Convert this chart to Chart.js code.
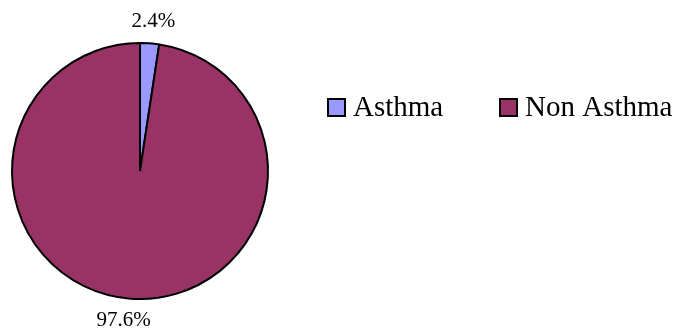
<!DOCTYPE html>
<html>
<head>
<meta charset="utf-8">
<script src="https://cdn.jsdelivr.net/npm/chart.js@4/dist/chart.umd.min.js"></script>
<style>
  html, body { margin: 0; padding: 0; background: #fff; }
  #wrap { width: 677px; height: 333px; }
</style>
</head>
<body>
<div id="wrap"><canvas id="mycanvas" width="677" height="333"></canvas></div>
<script>
var categories = ["Asthma", "Non Asthma"];
var values = [2.4, 97.6];
var labels = ["2.4%", "97.6%"];
var colors = ["#9999FF", "#993366"];

// percentage labels outside the slices + legend on the right
var piePieces = {
  id: "piePieces",
  afterDatasetsDraw: function(chart) {
    var ctx = chart.ctx;
    var meta = chart.getDatasetMeta(0);
    ctx.save();
    ctx.fillStyle = "#000";
    ctx.font = "21px 'Liberation Serif', 'Times New Roman', serif";
    ctx.textAlign = "center";
    ctx.textBaseline = "middle";
    meta.data.forEach(function(arc, i) {
      var p = arc.getProps(["x", "y", "startAngle", "endAngle", "outerRadius"], true);
      var mid = (p.startAngle + p.endAngle) / 2;
      var d = p.outerRadius + 22;
      // labels sit a little left of the bisector in the original
      var shift = i === 1 ? -5 : 2;
      ctx.fillText(labels[i], p.x + Math.cos(mid) * d + shift, p.y + Math.sin(mid) * d);
    });

    // legend
    var lx = [328, 500];
    ctx.font = "29px 'Liberation Serif', 'Times New Roman', serif";
    ctx.textAlign = "left";
    categories.forEach(function(name, i) {
      ctx.fillStyle = colors[i];
      ctx.fillRect(lx[i], 99, 17, 17);
      ctx.lineWidth = 2;
      ctx.strokeStyle = "#000";
      ctx.strokeRect(lx[i], 99, 17, 17);
      ctx.fillStyle = "#000";
      ctx.fillText(name, lx[i] + 25, 108);
    });
    ctx.restore();
  }
};

var ctx = document.getElementById("mycanvas");
var pie = new Chart(ctx, {
  type: "pie",
  data: {
    labels: categories,
    datasets: [{
      data: values,
      backgroundColor: colors,
      borderColor: "#000",
      borderWidth: 2
    }]
  },
  options: {
    responsive: false,
    animation: false,
    layout: { padding: { left: 11, top: 42, right: 408, bottom: 33 } },
    plugins: {
      legend: { display: false },
      tooltip: { enabled: false }
    }
  },
  plugins: [piePieces]
});
</script>
</body>
</html>
